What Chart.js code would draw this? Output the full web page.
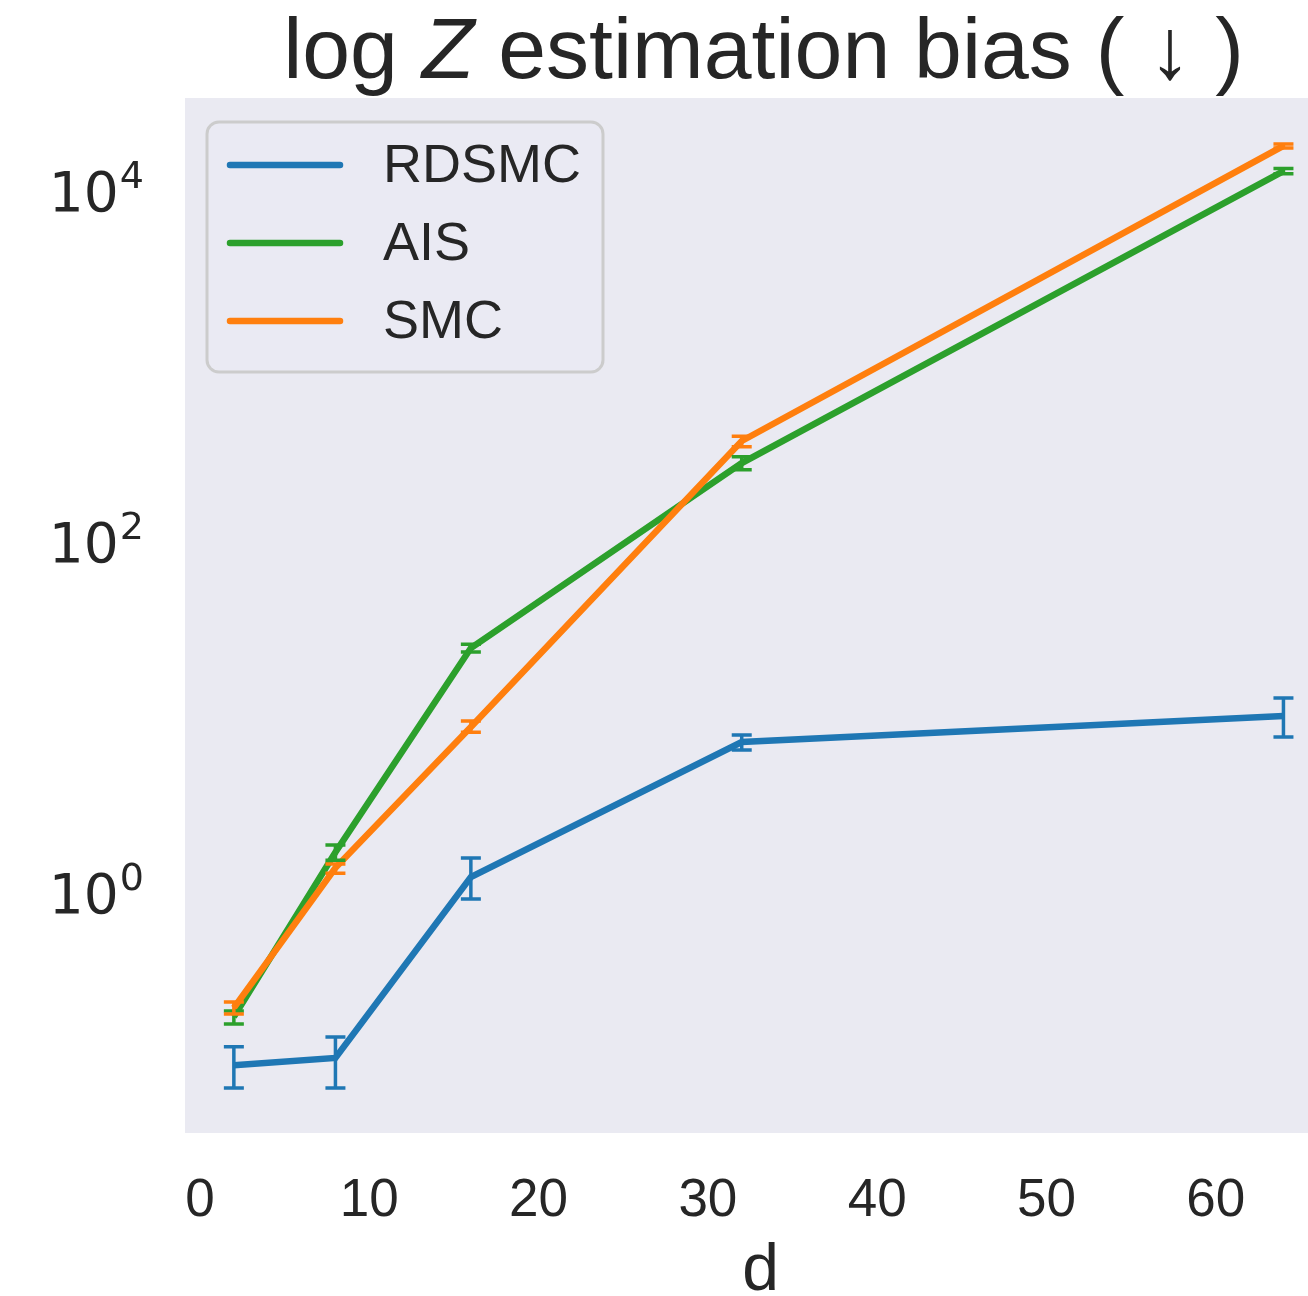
<!DOCTYPE html>
<html>
<head>
<meta charset="utf-8">
<title>log Z estimation bias</title>
<script src="https://cdn.jsdelivr.net/npm/chart.js@4.4.1/dist/chart.umd.min.js"></script>
<style>
  html, body { margin: 0; padding: 0; background: #ffffff; }
  #wrap { width: 1308px; height: 1296px; }
</style>
</head>
<body>
<div id="wrap"><canvas id="chart" width="1308" height="1296"></canvas></div>
<script>
// data
const dims = [2, 8, 16, 32, 64];

const rdsmcBias = [0.099, 0.109, 1.17, 6.88, 9.68];
const rdsmcLow  = [0.0735, 0.0735, 0.877, 6.19, 7.35];
const rdsmcHigh = [0.126, 0.1435, 1.50, 7.54, 12.25];

const aisBias = [0.187, 1.62, 23.6, 267, 12330];
const aisLow  = [0.170, 1.46, 22.4, 245, 11900];
const aisHigh = [0.202, 1.78, 24.8, 290, 12750];

const smcBias = [0.210, 1.32, 8.38, 357, 17140];
const smcLow  = [0.194, 1.23, 7.83, 331, 16700];
const smcHigh = [0.227, 1.39, 9.06, 380, 17600];

const xTickValues = [0, 10, 20, 30, 40, 50, 60];
const yTickValues = [1, 100, 10000];

const TEXT = "#262626";
const BG = "#EAEAF2";

const toPoints = (ys) => dims.map((d, i) => ({ x: d, y: ys[i] }));

const series = [
  { label: "RDSMC", color: "#1f77b4", vals: rdsmcBias, lo: rdsmcLow, hi: rdsmcHigh, order: 3 },
  { label: "AIS",   color: "#2ca02c", vals: aisBias,   lo: aisLow,   hi: aisHigh,   order: 2 },
  { label: "SMC",   color: "#ff7f0e", vals: smcBias,   lo: smcLow,   hi: smcHigh,   order: 1 }
];

// background of the axes area
const plotBg = {
  id: "plotBg",
  beforeDraw(chart) {
    const { ctx, chartArea: a } = chart;
    ctx.save();
    ctx.fillStyle = BG;
    ctx.fillRect(a.left, a.top, a.right - a.left, a.bottom - a.top);
    ctx.restore();
  }
};

// vertical error bars with caps
const errorBars = {
  id: "errorBars",
  afterDatasetsDraw(chart) {
    const { ctx, scales } = chart;
    ctx.save();
    series.forEach((s) => {
      ctx.strokeStyle = s.color;
      ctx.lineWidth = 3.5;
      ctx.lineCap = "butt";
      dims.forEach((d, i) => {
        const px = scales.x.getPixelForValue(d);
        const top = scales.y.getPixelForValue(s.hi[i]);
        const bot = scales.y.getPixelForValue(s.lo[i]);
        ctx.beginPath();
        ctx.moveTo(px, top); ctx.lineTo(px, bot);
        ctx.moveTo(px - 10, top); ctx.lineTo(px + 10, top);
        ctx.moveTo(px - 10, bot); ctx.lineTo(px + 10, bot);
        ctx.stroke();
      });
    });
    ctx.restore();
  }
};

// title, y tick labels with exponents, x label and the framed legend
const decorations = {
  id: "decorations",
  afterDraw(chart) {
    const { ctx, chartArea: a, scales } = chart;
    ctx.save();
    ctx.fillStyle = TEXT;

    // title with italic Z
    const parts = [
      { t: "log ", f: "86px 'Liberation Sans', Arial, sans-serif" },
      { t: "Z", f: "italic 86px 'Liberation Sans', Arial, sans-serif" },
      { t: " estimation bias ( \u2193 )", f: "86px 'Liberation Sans', Arial, sans-serif" }
    ];
    let total = 0;
    parts.forEach((p) => { ctx.font = p.f; p.w = ctx.measureText(p.t).width; total += p.w; });
    let tx = (a.left + a.right) / 2 + 17 - total / 2;
    ctx.textBaseline = "alphabetic";
    ctx.textAlign = "left";
    parts.forEach((p) => { ctx.font = p.f; ctx.fillText(p.t, tx, 78); tx += p.w; });

    // y tick labels 10^k
    const baseFont = "55px 'DejaVu Sans', sans-serif";
    const expFont = "38px 'DejaVu Sans', sans-serif";
    yTickValues.forEach((v) => {
      const py = scales.y.getPixelForValue(v);
      const exp = String(Math.round(Math.log10(v)));
      ctx.font = baseFont; const wb = ctx.measureText("10").width;
      ctx.font = expFont; const we = ctx.measureText(exp).width;
      const xb = a.left - 42 - we - wb;
      ctx.font = baseFont; ctx.fillText("10", xb, py + 24);
      ctx.font = expFont; ctx.fillText(exp, xb + wb + 1, py + 1);
    });

    // x axis label
    ctx.font = "66px 'Liberation Sans', Arial, sans-serif";
    ctx.textAlign = "center";
    ctx.fillText("d", (a.left + a.right) / 2 + 14, 1290);

    // legend
    const lx = a.left + 22, ly = a.top + 24, lw = 396, lh = 250;
    ctx.beginPath();
    ctx.roundRect(lx, ly, lw, lh, 12);
    ctx.fillStyle = "rgba(234,234,242,0.8)";
    ctx.fill();
    ctx.lineWidth = 3;
    ctx.strokeStyle = "#cccccc";
    ctx.stroke();
    ctx.font = "54px 'Liberation Sans', Arial, sans-serif";
    ctx.textAlign = "left";
    ctx.textBaseline = "middle";
    series.forEach((s, i) => {
      const yy = ly + 43 + i * 78;
      ctx.strokeStyle = s.color;
      ctx.lineWidth = 6.5;
      ctx.lineCap = "round";
      ctx.beginPath();
      ctx.moveTo(lx + 23, yy); ctx.lineTo(lx + 133, yy);
      ctx.stroke();
      ctx.fillStyle = TEXT;
      ctx.fillText(s.label, lx + 176, yy + 2);
    });
    ctx.restore();
  }
};

const ctx = document.getElementById("chart").getContext("2d");
new Chart(ctx, {
  type: "line",
  data: {
    datasets: series.map((s) => ({
      label: s.label,
      data: toPoints(s.vals),
      borderColor: s.color,
      backgroundColor: s.color,
      borderWidth: 6.5,
      pointRadius: 0,
      tension: 0,
      fill: false,
      order: s.order
    }))
  },
  options: {
    responsive: false,
    animation: false,
    events: [],
    layout: { padding: { top: 98, right: 0, left: 0, bottom: 0 } },
    plugins: {
      legend: { display: false },
      title: { display: false },
      tooltip: { enabled: false }
    },
    scales: {
      x: {
        type: "linear",
        min: -0.886,
        max: 65.45,
        grid: { display: false, drawTicks: false },
        border: { display: false },
        afterBuildTicks: (scale) => { scale.ticks = xTickValues.map((v) => ({ value: v })); },
        afterFit: (scale) => { scale.height = 163; },
        ticks: {
          padding: 37,
          color: TEXT,
          maxRotation: 0,
          font: { family: "'Liberation Sans', Arial, sans-serif", size: 53 }
        }
      },
      y: {
        type: "logarithmic",
        min: 0.0407,
        max: 32140,
        grid: { display: false, drawTicks: false },
        border: { display: false },
        afterBuildTicks: (scale) => { scale.ticks = yTickValues.map((v) => ({ value: v })); },
        afterFit: (scale) => { scale.width = 185; },
        ticks: { display: false }
      }
    }
  },
  plugins: [plotBg, errorBars, decorations]
});
</script>
</body>
</html>
